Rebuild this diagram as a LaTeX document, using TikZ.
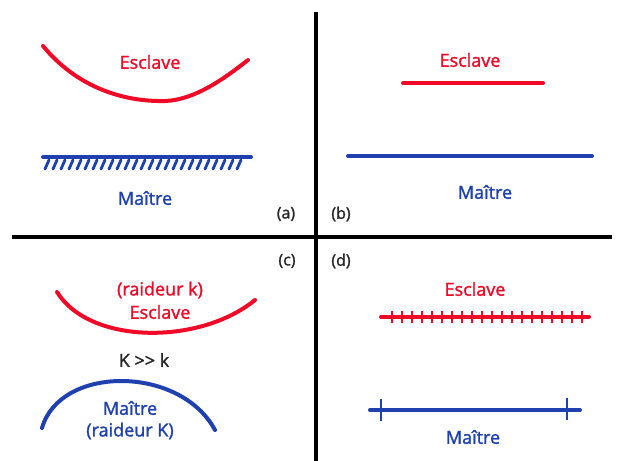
\documentclass[tikz,border=0pt]{standalone}
\usepackage{fontspec}
\setmainfont[Ligatures=NoCommon,FakeBold=1.5]{Open Sans}
\begin{document}
\begin{tikzpicture}[x=1pt,y=-1pt,
  redc/.style={draw=myred,line width=4pt,line cap=round},
  bluec/.style={draw=myblue,line width=4pt,line cap=round},
  axis/.style={draw=black,line width=4pt},
  rtxt/.style={text=myred,font=\fontsize{18}{20}\selectfont,inner sep=0pt},
  btxt/.style={text=myblue,font=\fontsize{18}{20}\selectfont,inner sep=0pt},
  ktxt/.style={text=black!85,font=\fontsize{18}{20}\selectfont,inner sep=0pt},
  ltxt/.style={text=black!85,font=\fontsize{16}{18}\selectfont,inner sep=0pt}]
\definecolor{myred}{RGB}{240,10,40}
\definecolor{myblue}{RGB}{30,65,175}
\useasboundingbox (0,0) rectangle (622,461);
\fill[white] (0,0) rectangle (622,461);
% axes
\coordinate (vt) at (316,12);
\coordinate (vb) at (316,461);
\coordinate (hl) at (12,237);
\coordinate (hr) at (612,237);
\draw[axis] (vt) -- (vb);
\draw[axis] (hl) -- (hr);
% labels
\node[ltxt] (la) at (286,214) {(a)};
\node[ltxt] (lb) at (341,214) {(b)};
\node[ltxt] (lc) at (287,261) {(c)};
\node[ltxt] (ld) at (341,261) {(d)};
% panel a
\coordinate (a1) at (43,46);
\coordinate (a2) at (248,60);
\draw[redc] (a1) .. controls (75,85) and (120,102) .. (165,101) .. controls (195,100) and (225,78) .. (a2);
\node[rtxt] (ea) at (150,62) {Esclave};
\coordinate (m1) at (43,157);
\coordinate (m2) at (251,157);
\draw[bluec] (m1) -- (m2);
\foreach \x in {49,57,...,247} \draw[myblue,line width=2.8pt,line cap=round] (\x,160) -- (\x-4,169);
\node[btxt] (ma) at (145,198) {Maître};
% panel b
\node[rtxt] (eb) at (470,60) {Esclave};
\coordinate (b1) at (403,83);
\coordinate (b2) at (543,83);
\draw[redc] (b1) -- (b2);
\coordinate (b3) at (348,156);
\coordinate (b4) at (592,156);
\draw[bluec] (b3) -- (b4);
\node[btxt] (mb) at (485,192) {Maître};
% panel c
\coordinate (c1) at (57,292);
\coordinate (c2) at (255,300);
\draw[redc] (c1) .. controls (90,345) and (200,345) .. (c2);
\node[rtxt] (rk) at (160,290) {(raideur k)};
\node[rtxt] (ec) at (160,312) {Esclave};
\node[ktxt] (kk) at (144,360) {K >{}> k};
\coordinate (c3) at (42,428);
\coordinate (c4) at (215,430);
\draw[bluec] (c3) .. controls (60,365) and (180,365) .. (c4);
\node[btxt] (mc) at (130,408) {Maître};
\node[btxt] (rK) at (130,431) {(raideur K)};
% panel d
\node[rtxt] (ed) at (475,289) {Esclave};
\coordinate (d1) at (381,317);
\coordinate (d2) at (589,317);
\draw[redc] (d1) -- (d2);
\foreach \x in {392,402,...,582} \draw[myred,line width=2.8pt] (\x,311) -- (\x,323);
\coordinate (d3) at (370,410);
\coordinate (d4) at (580,410);
\draw[bluec] (d3) -- (d4);
\draw[myblue,line width=2.8pt] (381,399) -- (381,421);
\draw[myblue,line width=2.8pt] (567,398) -- (567,420);
\node[btxt] (md) at (473,437) {Maître};
\end{tikzpicture}
\end{document}
